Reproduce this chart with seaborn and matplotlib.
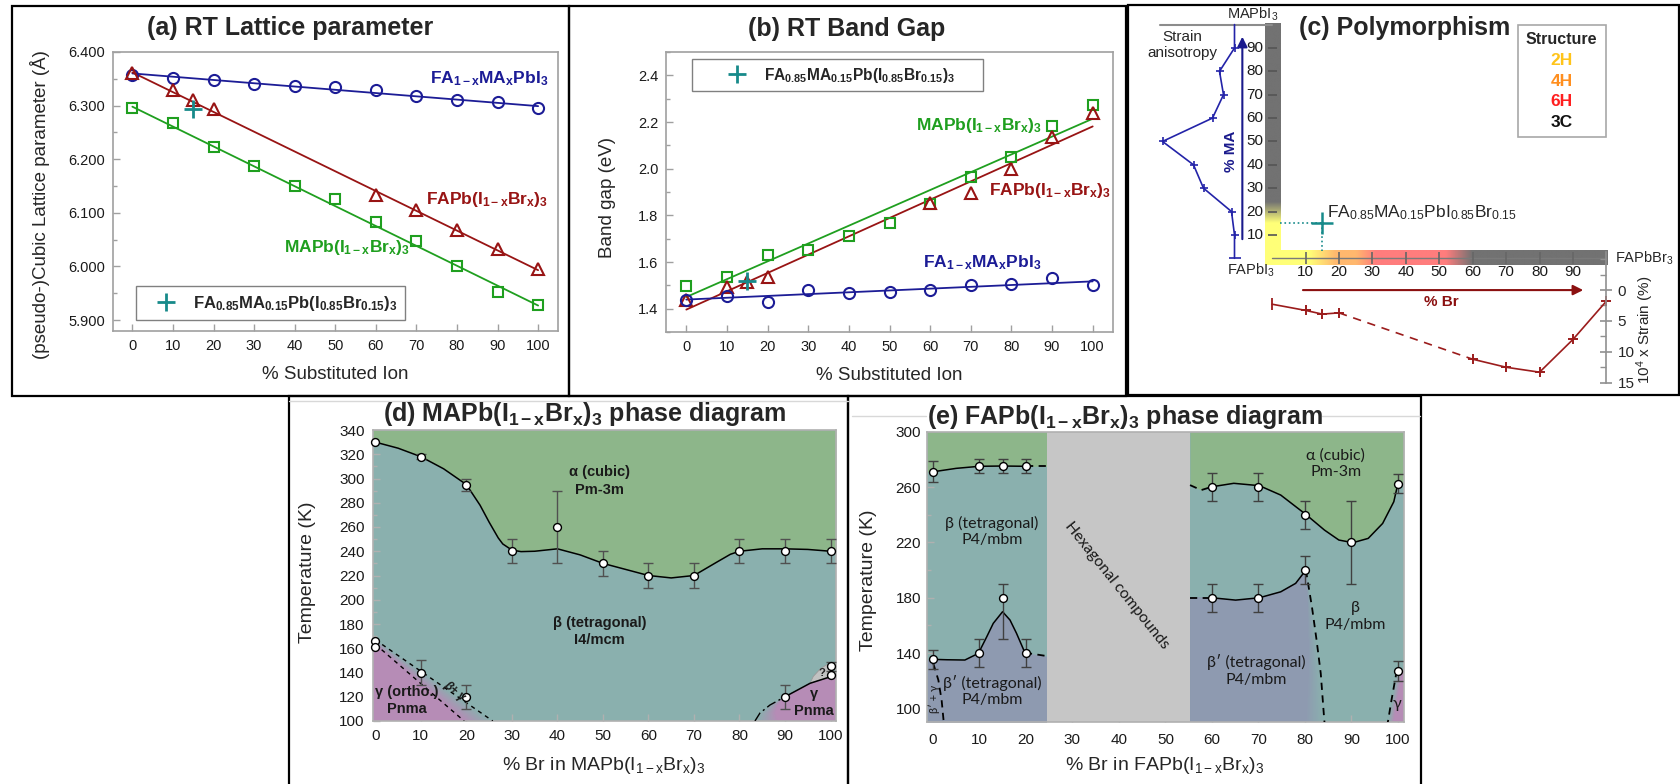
import numpy as np
import matplotlib
matplotlib.use("Agg")
import matplotlib.pyplot as plt
from matplotlib.patches import Rectangle, Polygon
from matplotlib.lines import Line2D
from matplotlib.colors import LinearSegmentedColormap, to_rgb
from matplotlib.ticker import MultipleLocator, FormatStrFormatter
import seaborn as sns

# ---------------- data ----------------
pct = [0, 10, 20, 30, 40, 50, 60, 70, 80, 90, 100]
pct_fa_br = [0, 10, 15, 20, 60, 70, 80, 90, 100]
fit_ends = [0, 100]
mixed_pct = [15]

# (a) RT lattice parameter (Angstrom)
lat_fa_ma = [6.358, 6.352, 6.347, 6.340, 6.336, 6.335, 6.330, 6.317, 6.311, 6.306, 6.296]
lat_fa_br = [6.360, 6.329, 6.311, 6.293, 6.133, 6.105, 6.067, 6.032, 5.996]
lat_ma_br = [6.296, 6.268, 6.223, 6.188, 6.150, 6.125, 6.083, 6.048, 6.001, 5.952, 5.928]
lat_fit_fa_ma = [6.360, 6.299]
lat_fit_fa_br = [6.362, 5.993]
lat_fit_ma_br = [6.298, 5.927]
lat_mixed = [6.294]

# (b) RT band gap (eV)
gap_ma_br = [1.497, 1.536, 1.629, 1.650, 1.713, 1.769, 1.850, 1.964, 2.050, 2.181, 2.271]
gap_fa_br = [1.436, 1.493, 1.514, 1.536, 1.854, 1.897, 1.997, 2.136, 2.240]
gap_fa_ma = [1.436, 1.454, 1.429, 1.479, 1.467, 1.470, 1.479, 1.500, 1.507, 1.533, 1.500]
gap_fit_ma_br = [1.450, 2.214]
gap_fit_fa_br = [1.396, 2.181]
gap_fit_fa_ma = [1.439, 1.517]
gap_mixed = [1.517]

# (c) polymorphism
strain_br = [0, 10, 15, 20, 60, 70, 80, 90, 100]
strain_val = [2.3, 3.3, 3.9, 3.7, 11.2, 12.5, 13.3, 8.0, 1.8]
aniso_ma = [0, 10, 20, 30, 40, 50, 60, 70, 80, 90, 100]
aniso_val = [0, 0, 0.3, 3.1, 4.1, 7.2, 2.2, 1.1, 1.5, 0, 0]
comp_ticks = [10, 20, 30, 40, 50, 60, 70, 80, 90]
strain_ticks = [0, 5, 10, 15]
mixed_br, mixed_ma = [15], [15]
struct_names = ["2H", "4H", "6H", "3C"]
struct_colors = ["#ffc41a", "#ff8f1f", "#ff1f1f", "#111111"]

# (d) MAPb(I1-xBrx)3 phase diagram
d_ab_x = [0, 5, 10, 15, 20, 23, 25, 27, 28, 30, 32, 35, 40, 45, 50, 55, 60, 65, 70, 75, 78, 80, 85, 90, 95, 100]
d_ab_T = [330, 325, 318, 308, 295, 278, 264, 251, 246, 241, 239.7, 240, 242, 237, 230, 225, 220, 218,
          220, 231, 237.5, 240, 242, 242, 241.5, 240]
d_pt_x = [0, 10, 20, 30, 40, 50, 60, 70, 80, 90, 100, 0, 0, 10, 20, 90, 100, 100]
d_pt_T = [330, 318, 295, 240, 260, 230, 220, 220, 240, 240, 240, 166, 161, 140, 120, 120, 145, 138]
d_pt_err = [0, 2, 5, 10, 30, 10, 10, 10, 10, 10, 10, 0, 0, 10, 10, 10, 4, 0]
d_gam_lo_x, d_gam_lo_T = [0, 19.5], [163.3, 100]
d_gam_hi_x, d_gam_hi_T = [0, 25.8], [167, 100]
d_gam_r_x = [83.4, 84.5, 86.7, 90.0]
d_gam_r_T = [100, 106.6, 113.2, 120]
d_gam_line_x = [90, 95.5, 100]
d_gam_line_T = [120, 131.1, 136.5]
d_q_x = [95.5, 96.2, 97.7, 99.1, 100, 100]
d_q_T = [131.1, 136.7, 142.8, 146.3, 147, 136.5]

# (e) FAPb(I1-xBrx)3 phase diagram
e_hex = [24.45, 55.3]
e_up_l_x = [0, 5, 10, 15, 20]
e_up_l_T = [271, 273.5, 275, 275.2, 275]
e_up_l_dx, e_up_l_dT = [20, 24.45], [275, 275]
e_lo_l_x = [0, 3, 6.9, 9.8, 11.6, 13.0, 15.0, 16.6, 18.0, 19.8]
e_lo_l_T = [135.5, 135.2, 135, 139.8, 151.8, 161.5, 169.9, 163.9, 154.3, 140.3]
e_lo_l_dx, e_lo_l_dT = [19.8, 24.45], [140.3, 137.9]
e_bg_x = [0.1, 1.2, 1.9, 2.3, 2.4]
e_bg_T = [132.6, 120.5, 106, 92, 90]
e_up_r_dx, e_up_r_dT = [55.3, 57.7, 60], [261.4, 257.8, 260.2]
e_up_r_x = [60, 64.7, 70.2, 74.8, 80.2, 84.2, 87.3, 90.3, 93.6, 96.7, 99.1, 100]
e_up_r_T = [260.2, 262.7, 261, 254.2, 240.2, 228.9, 221.7, 219.8, 222.9, 233.7, 249.4, 262.7]
e_lo_r_dx, e_lo_r_dT = [55.3, 60], [180, 180]
e_lo_r_x = [60, 65.1, 70.2, 74.8, 78, 80.2]
e_lo_r_T = [180, 178.3, 180, 184.3, 190.4, 200]
e_bb_x = [80.2, 81.5, 82.5, 83.4, 84.1, 84.2]
e_bb_T = [200, 173.5, 149.4, 125.3, 94, 90]
e_gam_x = [100, 99.7, 98.6, 97.9, 97.8]
e_gam_T = [127.2, 126.5, 106, 91.6, 90]
e_pt_x = [0, 10, 15, 20, 0, 10, 15, 20, 60, 70, 80, 90, 100, 60, 70, 80, 100]
e_pt_T = [271, 275, 275, 275, 135.5, 140, 180, 140, 260, 260, 240, 220, 262.5, 180, 180, 200, 127.2]
e_err_lo = [7.5, 5, 5, 5, 7, 10, 30, 10, 10, 10, 10, 30, 7, 10, 10, 10, 7]
e_err_hi = [7.5, 5, 5, 5, 7, 10, 10, 10, 10, 10, 10, 30, 7, 10, 10, 10, 7]

# ---------------- style ----------------
sns.set_style("white")
plt.rcParams["font.family"] = ["Liberation Sans", "DejaVu Sans"]
plt.rcParams["mathtext.fontset"] = "custom"
plt.rcParams["mathtext.rm"] = "Liberation Sans"
plt.rcParams["mathtext.bf"] = "Liberation Sans:bold"
plt.rcParams["mathtext.it"] = "Liberation Sans:italic"
plt.rcParams["mathtext.default"] = "regular"

BLUE, RED, GREEN, TEAL = "#1c1c96", "#981414", "#1f9f1f", "#178a8a"
NAVY = "#1a1a8c"
SPINE = "#a0a0a0"
C_ALPHA, C_BETA, C_GAMMA = "#8db68a", "#8ab0ae", "#b68cb6"
C_BPRIME, C_HEX = "#8e9ab0", "#c6c6c6"
TITLE, TICK, LAB, SER = 18, 10.5, 13.5, 12.5
E_FONT = ["Lato", "DejaVu Sans"]

lab_fa_ma = r"FA$_{\mathbf{1-x}}$MA$_{\mathbf{x}}$PbI$_{\mathbf{3}}$"
lab_fa_br = r"FAPb(I$_{\mathbf{1-x}}$Br$_{\mathbf{x}}$)$_{\mathbf{3}}$"
lab_ma_br = r"MAPb(I$_{\mathbf{1-x}}$Br$_{\mathbf{x}}$)$_{\mathbf{3}}$"
lab_mixed = r"FA$_{\mathbf{0.85}}$MA$_{\mathbf{0.15}}$Pb(I$_{\mathbf{0.85}}$Br$_{\mathbf{0.15}}$)$_{\mathbf{3}}$"

W, H = 1680, 784
fig = plt.figure(figsize=(W / 100, H / 100), dpi=100)
fig.patch.set_facecolor("white")


def add_ax(l, t, r, b):
    return fig.add_axes([l / W, 1 - b / H, (r - l) / W, (b - t) / H])


def ftext(x, y, s, **kw):
    fig.text(x / W, 1 - y / H, s, **kw)


def fline(x0, y0, x1, y1, **kw):
    fig.add_artist(Line2D([x0 / W, x1 / W], [1 - y0 / H, 1 - y1 / H],
                          transform=fig.transFigure, **kw))


def blend(c1, c2, f):
    a, b = to_rgb(c1), to_rgb(c2)
    return tuple((1 - f) * u + f * v for u, v in zip(a, b))


def style_axes(ax, spine_c, size, xpad, ypad):
    for sp in ax.spines.values():
        sp.set_visible(True)
        sp.set_color(spine_c)
        sp.set_linewidth(1.2)
    ax.tick_params(which="both", direction="in", color=spine_c, labelsize=size,
                   labelcolor="#1a1a1a", bottom=True, left=True, top=False, right=False)
    ax.tick_params(axis="x", pad=xpad)
    ax.tick_params(axis="y", pad=ypad)
    ax.tick_params(which="major", length=5, width=1)
    ax.tick_params(which="minor", length=3, width=1)


def set_labels(ax, box, xlab, xpos, ylab, ypos, size):
    l, t, r, b = box
    ax.set_xlabel(xlab, fontsize=size)
    ax.set_ylabel(ylab, fontsize=size)
    ax.xaxis.set_label_coords((xpos[0] - l) / (r - l), (b - xpos[1]) / (b - t))
    ax.yaxis.set_label_coords((ypos[0] - l) / (r - l), (b - ypos[1]) / (b - t))
    ax.xaxis.label.set_va("center")
    ax.yaxis.label.set_va("center")


def open_marks(ax, x, y, marker, color, ms):
    sns.lineplot(x=x, y=y, ax=ax, marker=marker, linestyle="", markersize=ms,
                 markerfacecolor="none", markeredgecolor=color, markeredgewidth=1.5,
                 color=color, estimator=None, sort=False)


def cross(ax, x, y, ms, mew, label=None, z=4):
    sns.lineplot(x=x, y=y, ax=ax, marker="+", linestyle="", markersize=ms,
                 markeredgewidth=mew, markeredgecolor=TEAL, color=TEAL,
                 estimator=None, label=label, zorder=z)


def frame(l, t, r, b):
    fig.add_artist(Rectangle((l / W, 1 - b / H), (r - l) / W, (b - t) / H,
                             transform=fig.transFigure, fill=False, ec="black", lw=1.6))


# ---------------- (a) lattice parameter ----------------
box_a = (112.7, 52, 558, 331)
axA = add_ax(*box_a)
for fit, c in [(lat_fit_fa_ma, BLUE), (lat_fit_fa_br, RED), (lat_fit_ma_br, GREEN)]:
    sns.lineplot(x=fit_ends, y=fit, ax=axA, color=c, linewidth=1.3, estimator=None, sort=False)
open_marks(axA, pct, lat_fa_ma, "o", BLUE, 8)
open_marks(axA, pct_fa_br, lat_fa_br, "^", RED, 9)
open_marks(axA, pct, lat_ma_br, "s", GREEN, 7)
cross(axA, mixed_pct, lat_mixed, 13, 2, label=lab_mixed)
axA.set_xlim(-4.85, 104.9)
axA.set_ylim(5.8795, 6.4)
axA.xaxis.set_major_locator(MultipleLocator(10))
axA.yaxis.set_major_locator(MultipleLocator(0.1))
axA.yaxis.set_minor_locator(MultipleLocator(0.05))
axA.yaxis.set_major_formatter(FormatStrFormatter("%.3f"))
style_axes(axA, SPINE, TICK, 6, 5.5)
set_labels(axA, box_a, "% Substituted Ion", (335.5, 375),
           "(pseudo-)Cubic Lattice parameter (Å)", (40.5, 204.5), LAB)
axA.text(102.4, 6.341, lab_fa_ma, color=BLUE, fontsize=SER, fontweight="bold", ha="right")
axA.text(102.4, 6.116, lab_fa_br, color=RED, fontsize=SER, fontweight="bold", ha="right")
axA.text(37.3, 6.027, lab_ma_br, color=GREEN, fontsize=SER, fontweight="bold", ha="left")
leg = axA.legend(loc="lower left", bbox_to_anchor=(0.0524, 0.0394), borderaxespad=0,
                 frameon=True, fancybox=False, edgecolor="#808080", framealpha=1,
                 prop=dict(size=12, weight="bold"), handlelength=2.7, handletextpad=0.27,
                 borderpad=0.45)
leg.get_frame().set_linewidth(1.0)

# ---------------- (b) band gap ----------------
box_b = (666, 52, 1113, 332)
axB = add_ax(*box_b)
for fit, c in [(gap_fit_ma_br, GREEN), (gap_fit_fa_br, RED), (gap_fit_fa_ma, BLUE)]:
    sns.lineplot(x=fit_ends, y=fit, ax=axB, color=c, linewidth=1.3, estimator=None, sort=False)
open_marks(axB, pct, gap_ma_br, "s", GREEN, 7)
open_marks(axB, pct_fa_br, gap_fa_br, "^", RED, 9)
open_marks(axB, pct, gap_fa_ma, "o", BLUE, 8)
cross(axB, mixed_pct, gap_mixed, 13, 2, label=lab_mixed + "      ")
axB.set_xlim(-5, 105)
axB.set_ylim(1.3, 2.5)
axB.xaxis.set_major_locator(MultipleLocator(10))
axB.yaxis.set_major_locator(MultipleLocator(0.2))
axB.yaxis.set_minor_locator(MultipleLocator(0.1))
axB.yaxis.set_major_formatter(FormatStrFormatter("%.1f"))
style_axes(axB, SPINE, TICK, 6, 5.5)
set_labels(axB, box_b, "% Substituted Ion", (889, 375), "Band gap (eV)", (608, 197.5), LAB)
axB.text(56.6, 2.164, lab_ma_br, color=GREEN, fontsize=SER, fontweight="bold")
axB.text(74.6, 1.886, lab_fa_br, color=RED, fontsize=SER, fontweight="bold")
axB.text(58.3, 1.579, lab_fa_ma, color=BLUE, fontsize=SER, fontweight="bold")
leg = axB.legend(loc="upper left", bbox_to_anchor=(0.0582, 0.974), borderaxespad=0,
                 frameon=True, fancybox=False, edgecolor="#808080", framealpha=1,
                 prop=dict(size=11.2, weight="bold"), handlelength=5.0, handletextpad=-0.8,
                 borderpad=0.4)
leg.get_frame().set_linewidth(1.0)

# ---------------- (c) polymorphism ----------------
BR0, BRS = 1272.1, 3.343     # pixel of 0 % Br, pixels per %
MA0, MAS = 258.3, 2.337      # pixel of 0 % MA, pixels per %


def br(px):
    return (px - BR0) / BRS


def ma(py):
    return (MA0 - py) / MAS


axC = add_ax(1127, 6, 1679, 395)
axC.axis("off")

Y, O, R, G = "#ffff78", "#ffb86e", "#ff7d7d", "#727272"
b0, b1 = -2.1, 100.5
stops = [(-2.1, Y), (11, Y), (19, O), (25, O), (31, R), (52, R), (60, G), (100.5, G)]
cm_br = LinearSegmentedColormap.from_list("br", [((s - b0) / (b1 - b0), c) for s, c in stops])
axC.imshow(np.linspace(0, 1, 512)[None, :], cmap=cm_br, extent=[b0, b1, -2.9, 3.25],
           aspect="auto", interpolation="bilinear", zorder=1)
m0, m1 = -2.9, 100.5
stops = [(-2.9, Y), (15, Y), (24, G), (100.5, G)]
cm_ma = LinearSegmentedColormap.from_list("ma", [((s - m0) / (m1 - m0), c) for s, c in stops])
axC.imshow(np.linspace(0, 1, 512)[:, None], cmap=cm_ma, extent=[-2.1, 2.4, m0, m1],
           origin="lower", aspect="auto", interpolation="bilinear", zorder=1)
axC.set_xlim(br(1127), br(1679))
axC.set_ylim(ma(395), ma(6))

axC.plot([0, 100], [0, 0], color="#7a7a7a", lw=1, zorder=2)
axC.vlines(comp_ticks, -2.3, 2.6, color="#666666", lw=1.2, zorder=2)
axC.hlines(comp_ticks, -1.3, 1.5, color="#555555", lw=1.2, zorder=2)
axC.plot([br(1160), 0], [100, 100], color="#8c8c8c", lw=1.5, zorder=2)
for k in comp_ticks:
    axC.text(-2.6, k, str(k), ha="right", va="center", fontsize=11, color="#1a1a1a")
    axC.text(k, -5.9, str(k), ha="center", va="center", fontsize=11, color="#1a1a1a")
axC.text(-5.8, 104.6, r"MAPbI$_3$", ha="center", va="center", fontsize=10.5)
axC.text(-6.2, -5.2, r"FAPbI$_3$", ha="center", va="center", fontsize=10.5)
axC.text(102.5, 0, r"FAPbBr$_3$", ha="left", va="center", fontsize=10.5)

axC.annotate("", xy=(-8.9, 96), xytext=(-8.9, 7),
             arrowprops=dict(arrowstyle="-|>", color=NAVY, lw=1.5, mutation_scale=15))
axC.text(-12.3, 45.6, "% MA", rotation=90, ha="center", va="center", fontsize=11,
         fontweight="bold", color=NAVY)
axC.annotate("", xy=(93.9, -13.6), xytext=(8.4, -13.6),
             arrowprops=dict(arrowstyle="-|>", color="#8b1010", lw=1.5, mutation_scale=15))
axC.text(50.6, -18.8, "% Br", ha="center", va="center", fontsize=11, fontweight="bold",
         color="#8b1010")
axC.text(-26.8, 91.3, "Strain\nanisotropy", ha="center", va="center", fontsize=11,
         linespacing=1.25)

# mixed composition marker with guides
axC.plot([2.4, mixed_br[0]], [mixed_ma[0], mixed_ma[0]], ls=":", color=TEAL, lw=1.2, zorder=3)
axC.plot([mixed_br[0], mixed_br[0]], [mixed_ma[0], 3.3], ls=":", color=TEAL, lw=1.2, zorder=3)
cross(axC, mixed_br, mixed_ma, 16, 1.8)
axC.text(16.3, 17.6, r"FA$_{0.85}$MA$_{0.15}$PbI$_{0.85}$Br$_{0.15}$", fontsize=12.5,
         ha="left", va="baseline")

axC.add_patch(Rectangle((73.5, 52), 26.5, 47.8, fc="white", ec="#a8a8a8", lw=1.2, zorder=3))
axC.text(86.6, 93.6, "Structure", ha="center", va="center", fontsize=11.5,
         fontweight="bold", zorder=4)
for i, (nm, c) in enumerate(zip(struct_names, struct_colors)):
    axC.text(86.6, 84.6 - 8.8 * i, nm, ha="center", va="center", fontsize=12.5,
             fontweight="bold", color=c, zorder=4)
axC.set_xlabel("")
axC.set_ylabel("")

# strain anisotropy (blue, left)
axAn = add_ax(1150, MA0 - 100 * MAS, 1234.5, MA0)
axAn.set_xlim(8.45, 0)
axAn.set_ylim(0, 100)
axAn.axis("off")
sns.lineplot(x=aniso_val, y=aniso_ma, ax=axAn, color="#2323a8", lw=1.2, marker="+",
             markersize=6, markeredgewidth=1.2, markeredgecolor="#2323a8",
             markevery=list(range(1, 10)), estimator=None, sort=False, clip_on=False)
axAn.plot(aniso_val[:1], aniso_ma[:1], marker="_", ms=8, mew=1.2, color="#2323a8",
          clip_on=False)

# strain (red, bottom)
s_top = -(290 - 252) * 15 / (382.7 - 290)
axS = add_ax(BR0, 252, BR0 + 100 * BRS, 382.7)
axS.set_facecolor("none")
for side in ["top", "left", "bottom"]:
    axS.spines[side].set_visible(False)
axS.spines["right"].set_color("#909090")
axS.spines["right"].set_linewidth(1.2)
SRED = "#9b1c1c"
for sl, ls in [(slice(0, 4), "-"), (slice(3, 5), (0, (5, 4))), (slice(4, 9), "-")]:
    sns.lineplot(x=strain_br[sl], y=strain_val[sl], ax=axS, color=SRED, lw=1.2,
                 linestyle=ls, estimator=None, sort=False, clip_on=False)
sns.lineplot(x=strain_br[1:], y=strain_val[1:], ax=axS, color=SRED, linestyle="",
             marker="+", markersize=7, markeredgewidth=1.4, markeredgecolor=SRED,
             estimator=None, sort=False, clip_on=False)
axS.plot(strain_br[:1], strain_val[:1], marker="|", ms=9, mew=1.3, color=SRED, clip_on=False)
axS.set_xlim(0, 100)
axS.set_xticks([])
axS.set_xlabel("")
axS.yaxis.tick_right()
axS.set_yticks(strain_ticks)
axS.yaxis.set_minor_locator(MultipleLocator(2.5))
axS.set_ylim(15, s_top)
axS.tick_params(axis="y", which="major", direction="inout", length=8, width=1.2,
                color="#909090", pad=4, labelsize=11, right=True, left=False)
axS.tick_params(axis="y", which="minor", direction="in", length=4, width=1,
                color="#909090", right=True, left=False)
axS.yaxis.set_label_position("right")
axS.set_ylabel(r"10$^4$ x Strain (%)", fontsize=11, rotation=90)
axS.yaxis.set_label_coords((1645.7 - BR0) / (100 * BRS), (382.7 - 330) / (382.7 - 252))
axS.yaxis.label.set_va("center")

# ---------------- (d) MAPb(I1-xBrx)3 phase diagram ----------------
box_d = (372.6, 430, 836, 721)
axD = add_ax(*box_d)
dxl, dxh = -0.6, 101.2
axD.set_facecolor(C_BETA)
axD.fill_between(np.r_[dxl, d_ab_x, dxh], np.r_[d_ab_T[0], d_ab_T, d_ab_T[-1]], 340,
                 color=C_ALPHA, lw=0, zorder=1)
n = 24
for k in range(n + 1):
    f = k / n
    T0 = d_gam_hi_T[0] + (d_gam_lo_T[0] - d_gam_hi_T[0]) * f
    xb = d_gam_hi_x[1] + (d_gam_lo_x[1] - d_gam_hi_x[1]) * f
    slope = (T0 - 100) / xb
    axD.add_patch(Polygon([(dxl, 100), (dxl, T0 - slope * dxl), (xb, 100)],
                          fc=blend(C_BETA, C_GAMMA, f), ec="none", zorder=1))
Tend = d_gam_r_T[-1]
for k in range(n + 1):
    f = k / n
    s = 5 * f
    pts = [(x + s * (Tend - T) / (Tend - 100), T) for x, T in zip(d_gam_r_x, d_gam_r_T)]
    pts += list(zip(d_gam_line_x[1:], d_gam_line_T[1:]))
    pts += [(dxh, d_gam_line_T[-1]), (dxh, 100)]
    axD.add_patch(Polygon(pts, fc=blend(C_BETA, C_GAMMA, f), ec="none", zorder=1))
axD.add_patch(Polygon(list(zip(d_q_x, d_q_T)), fc="#c2c2c2", ec="#9a9a9a", lw=0.6, zorder=2))
axD.plot(d_ab_x, d_ab_T, color="black", lw=1.1, zorder=3)
axD.plot(d_gam_lo_x, d_gam_lo_T, color="black", lw=1, ls=(0, (3, 3)), zorder=3)
axD.plot(d_gam_hi_x, d_gam_hi_T, color="black", lw=1, ls=(0, (3, 3)), zorder=3)
axD.plot(d_gam_r_x, d_gam_r_T, color="black", lw=1, ls=(0, (7, 2.5, 1.5, 2.5)), zorder=3)
axD.plot(d_gam_line_x, d_gam_line_T, color="black", lw=1.1, zorder=3)
ex = np.array(d_pt_x, float)
eT = np.array(d_pt_T, float)
ee = np.array(d_pt_err, float)
m = ee > 0
axD.errorbar(ex[m], eT[m], yerr=ee[m], fmt="none", ecolor="#505050", elinewidth=1,
             capsize=3.5, capthick=1, zorder=4)
sns.scatterplot(x=d_pt_x, y=d_pt_T, ax=axD, s=32, color="white", edgecolor="black",
                linewidth=1, zorder=5, clip_on=False)
axD.set_xlim(dxl, dxh)
axD.set_ylim(100, 340)
axD.xaxis.set_major_locator(MultipleLocator(10))
axD.yaxis.set_major_locator(MultipleLocator(20))
axD.yaxis.set_minor_locator(MultipleLocator(10))
style_axes(axD, "#b0b0b0", 11, 6, 5.7)
set_labels(axD, box_d, r"% Br in MAPb(I$_{1-x}$Br$_x$)$_3$", (604, 765),
           "Temperature (K)", (307, 572), 14)
kw = dict(ha="center", va="center", fontsize=10.5, fontweight="bold", color="#1a1a1a",
          zorder=6, linespacing=1.3)
axD.text(49.2, 298, "α (cubic)\nPm-3m", **kw)
axD.text(49.2, 174, "β (tetragonal)\nI4/mcm", **kw)
axD.text(7.0, 117, "γ (ortho.)\nPnma", **kw)
axD.text(96.3, 115.5, "γ\nPnma", **kw)
axD.text(17.4, 125, "β+ γ", ha="center", va="center", fontsize=8.5, fontweight="bold",
         style="italic", rotation=-40, color="#1a1a1a", zorder=6)
axD.text(98.2, 140, "?", ha="center", va="center", fontsize=8, fontweight="bold", zorder=6)

# ---------------- (e) FAPb(I1-xBrx)3 phase diagram ----------------
box_e = (927.2, 431.7, 1403.8, 722.3)
axE = add_ax(*box_e)
exl, exh = -1.2, 101.25
axE.set_facecolor(C_BETA)
axE.fill_between(np.r_[exl, e_up_l_x, e_up_l_dx[1:]], np.r_[e_up_l_T[0], e_up_l_T, e_up_l_dT[1:]],
                 300, color=C_ALPHA, lw=0, zorder=1)
axE.fill_between(np.r_[exl, e_lo_l_x, e_lo_l_dx[1:]], 90,
                 np.r_[e_lo_l_T[0], e_lo_l_T, e_lo_l_dT[1:]], color=C_BPRIME, lw=0, zorder=1)
axE.fill_between(np.r_[e_up_r_dx, e_up_r_x[1:], exh], np.r_[e_up_r_dT, e_up_r_T[1:], e_up_r_T[-1]],
                 300, color=C_ALPHA, lw=0, zorder=1)
top = list(zip(e_lo_r_dx, e_lo_r_dT)) + list(zip(e_lo_r_x[1:], e_lo_r_T[1:]))
n = 16
for k in range(n + 1):
    f = k / n
    s = 4 * f
    down = [(x - s * (200 - T) / 110, T) for x, T in zip(e_bb_x[1:], e_bb_T[1:])]
    pts = [(e_hex[1], 90)] + top + down
    axE.add_patch(Polygon(pts, fc=blend(C_BETA, C_BPRIME, f), ec="none", zorder=1))
for k in range(9):
    f = k / 8
    s = 1.2 * f
    pts = [(x + s, T) for x, T in zip(e_gam_x[1:], e_gam_T[1:])]
    pts = [(e_gam_x[0], e_gam_T[0]), (exh, e_gam_T[0]), (exh, 90)] + pts[::-1]
    axE.add_patch(Polygon(pts, fc=blend(C_BETA, C_GAMMA, f), ec="none", zorder=1))
axE.axvspan(e_hex[0], e_hex[1], color=C_HEX, lw=0, zorder=2)

dash = (0, (4, 3))
axE.plot(e_up_l_x, e_up_l_T, color="black", lw=1.1, zorder=3)
axE.plot(e_up_l_dx, e_up_l_dT, color="black", lw=1.3, ls=dash, zorder=3)
axE.plot(e_lo_l_x, e_lo_l_T, color="black", lw=1.1, zorder=3)
axE.plot(e_lo_l_dx, e_lo_l_dT, color="black", lw=1.3, ls=dash, zorder=3)
axE.plot(e_bg_x, e_bg_T, color="black", lw=1.3, ls=dash, zorder=3)
axE.plot(e_up_r_dx, e_up_r_dT, color="black", lw=1.3, ls=dash, zorder=3)
axE.plot(e_up_r_x, e_up_r_T, color="black", lw=1.1, zorder=3)
axE.plot(e_lo_r_dx, e_lo_r_dT, color="black", lw=1.3, ls=dash, zorder=3)
axE.plot(e_lo_r_x, e_lo_r_T, color="black", lw=1.1, zorder=3)
axE.plot(e_bb_x, e_bb_T, color="black", lw=1.3, ls=dash, zorder=3)
axE.plot(e_gam_x, e_gam_T, color="black", lw=1.3, ls=dash, zorder=3)
axE.errorbar(e_pt_x, e_pt_T, yerr=[e_err_lo, e_err_hi], fmt="none", ecolor="#404040",
             elinewidth=1, capsize=3.5, capthick=1, zorder=4)
sns.scatterplot(x=e_pt_x, y=e_pt_T, ax=axE, s=32, color="white", edgecolor="black",
                linewidth=1, zorder=5, clip_on=False)
axE.set_xlim(exl, exh)
axE.xaxis.set_major_locator(MultipleLocator(10))
axE.set_yticks([100, 140, 180, 220, 260, 300])
axE.yaxis.set_minor_locator(MultipleLocator(20))
axE.set_ylim(90, 300)
style_axes(axE, "#b0b0b0", 11, 7.5, 4.5)
set_labels(axE, box_e, r"% Br in FAPb(I$_{1-x}$Br$_x$)$_3$", (1165, 765),
           "Temperature (K)", (868.4, 580.7), 14)
kw = dict(ha="center", va="center", fontsize=11.5, family=E_FONT, color="#1a1a1a",
          zorder=6, linespacing=1.2)
axE.text(86.6, 276.8, "α (cubic)\nPm-3m", **kw)
axE.text(12.7, 227.9, "β (tetragonal)\nP4/mbm", **kw)
axE.text(12.7, 112.4, "β′ (tetragonal)\nP4/mbm", **kw)
axE.text(69.5, 127.4, "β′ (tetragonal)\nP4/mbm", **kw)
axE.text(90.9, 166.5, "β\nP4/mbm", **kw)
axE.text(99.8, 103, "γ", **kw)
axE.text(39.6, 188.8, "Hexagonal compounds", ha="center", va="center", fontsize=11.3,
         family=E_FONT, rotation=-51.4, color="#1a1a1a", zorder=6)
axE.text(0.25, 107, "β′ + γ", ha="center", va="center", fontsize=8, family=E_FONT,
         rotation=90, color="#1a1a1a", zorder=6)

# ---------------- titles, frames ----------------
tkw = dict(fontsize=TITLE, fontweight="bold", ha="center", va="baseline")
ftext(290, 35, "(a) RT Lattice parameter", **tkw)
ftext(846.6, 36, "(b) RT Band Gap", **tkw)
ftext(1404.8, 35, "(c) Polymorphism", **tkw)
ftext(584, 421, r"(d) MAPb(I$_{\mathbf{1-x}}$Br$_{\mathbf{x}}$)$_{\mathbf{3}}$ phase diagram", **tkw)
ftext(1124.5, 424, r"(e) FAPb(I$_{\mathbf{1-x}}$Br$_{\mathbf{x}}$)$_{\mathbf{3}}$ phase diagram", **tkw)

fline(289, 401, 848, 401, color="#d8d8d8", lw=1)
fline(852, 415.7, 926, 415.7, color="#d8d8d8", lw=1)
fline(1322, 415.7, 1420, 415.7, color="#d8d8d8", lw=1)
frame(12, 6, 569, 396)
frame(569, 6, 1126, 396)
frame(1128, 5, 1679, 395)
frame(289, 396, 848, 800)
frame(848, 396, 1421, 800)

fig.savefig("out.png", dpi=100, facecolor="white")
